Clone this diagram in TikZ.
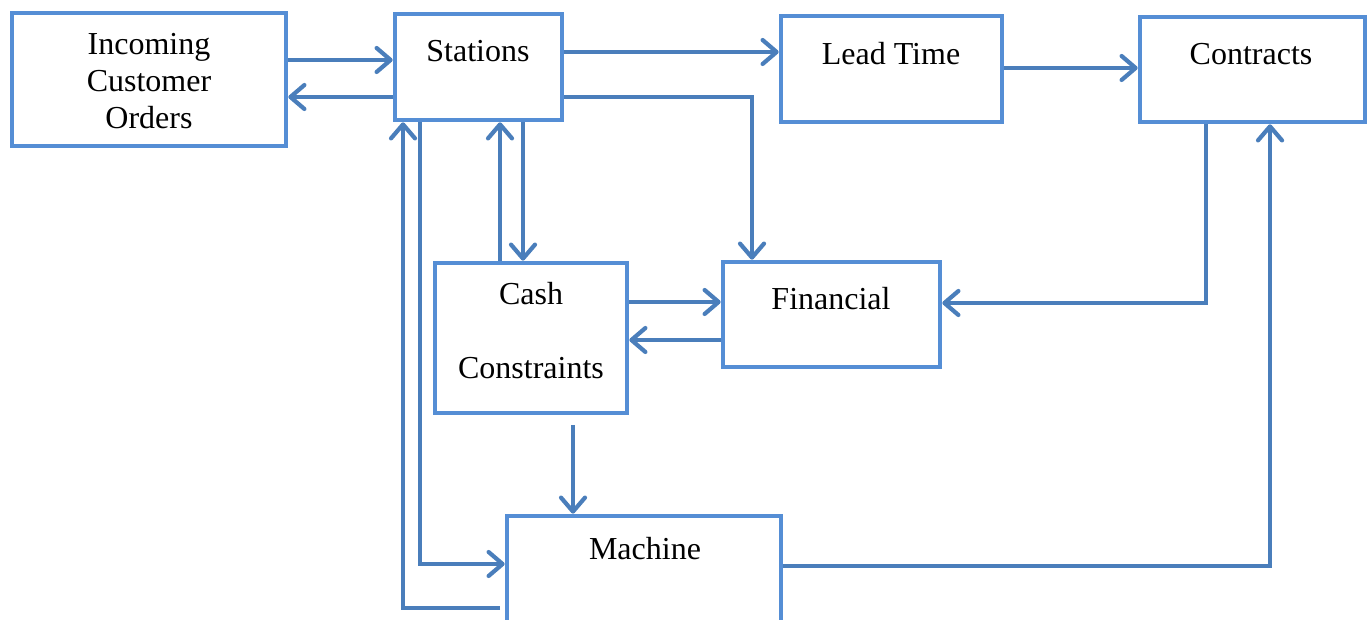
\documentclass[tikz,border=0pt]{standalone}
\usepackage{fontspec}
\setmainfont{Liberation Serif}
\usetikzlibrary{arrows.meta}

\definecolor{boxblue}{RGB}{85,142,213}
\definecolor{flowblue}{RGB}{74,126,187}

\begin{document}
\begin{tikzpicture}[x=0.5pt,y=-0.5pt,
  box/.style={draw=boxblue, line width=2.3pt, rectangle, inner sep=0pt},
  flow/.style={draw=flowblue, line width=2.1pt, -{Straight Barb[length=7pt,width=12pt,round]}},
  lbl/.style={font=\fontsize{16}{18.5}\selectfont, align=center, inner sep=0pt}]
\useasboundingbox (0,0) rectangle (1372,620);
\clip (0,0) rectangle (1372,620);
% boxes
\node [box, minimum width=137pt, minimum height=66.5pt] (orders) at (149,79.5) {};
\node [box, minimum width=83.5pt, minimum height=53pt] (stations) at (478.5,67) {};
\node [box, minimum width=110.5pt, minimum height=53pt] (leadtime) at (891.5,69) {};
\node [box, minimum width=112.5pt, minimum height=52.5pt] (contracts) at (1252.5,69.5) {};
\node [box, minimum width=96pt, minimum height=75pt] (cash) at (531,338) {};
\node [box, minimum width=108.5pt, minimum height=52.5pt] (financial) at (831.5,314.5) {};
\node [box, minimum width=137pt, minimum height=60pt] (machine) at (644,576) {};
% labels
\node [lbl] at (149,81) {Incoming\\Customer\\Orders};
\node [lbl] at (478,51) {Stations};
\node [lbl] at (891,54) {Lead Time};
\node [lbl] at (1251,54) {Contracts};
\node [lbl] at (831,299) {Financial};
\node [lbl] at (531,294) {Cash};
\node [lbl] at (531,368) {Constraints};
\node [lbl] at (645,549) {Machine};
% free ends
\coordinate (cashout) at (573,425);
\coordinate (machineout) at (500,608);
% connectors
\draw [flow] (orders.east |- 0,60) -- (stations.west |- 0,60);
\draw [flow] (stations.west |- 0,97) -- (orders.east |- 0,97);
\draw [flow] (stations.east |- 0,52) -- (leadtime.west |- 0,52);
\draw [flow] (stations.east |- 0,97) -| (financial.north -| 752,0);
\draw [flow] (leadtime.east |- 0,68) -- (contracts.west |- 0,68);
\draw [flow] (stations.south -| 523,0) -- (cash.north -| 523,0);
\draw [flow] (cash.north -| 500,0) -- (stations.south -| 500,0);
\draw [flow] (cash.east |- 0,302) -- (financial.west |- 0,302);
\draw [flow] (financial.west |- 0,340) -- (cash.east |- 0,340);
\draw [flow] (contracts.south -| 1206,0) |- (financial.east |- 0,303);
\draw [flow] (cashout) -- (machine.north -| cashout);
\draw [flow] (stations.south -| 420,0) |- (machine.west |- 0,564);
\draw [flow] (machineout) -| (stations.south -| 403,0);
\draw [flow] (machine.east |- 0,566) -| (contracts.south -| 1270,0);
\end{tikzpicture}
\end{document}
